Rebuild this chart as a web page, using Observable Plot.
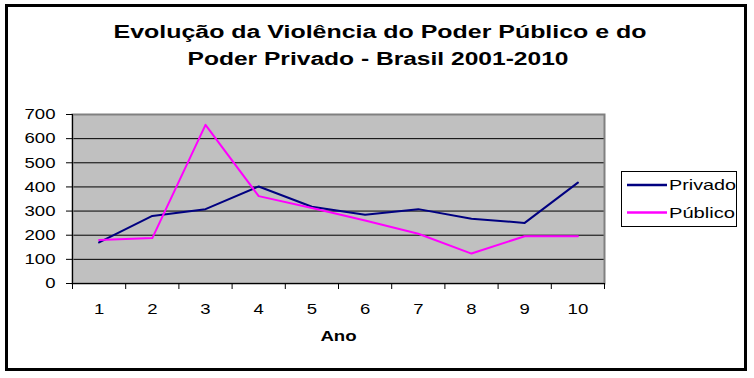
<!DOCTYPE html>
<html>
<head>
<meta charset="utf-8">
<script src="https://cdn.jsdelivr.net/npm/d3@7"></script>
<script src="https://cdn.jsdelivr.net/npm/@observablehq/plot@0.6"></script>
<style>
  html, body { margin: 0; padding: 0; background: #fff; }
  #wrap { position: relative; width: 754px; height: 378px; overflow: hidden; font-family: "Liberation Sans", Arial, sans-serif; }
  #border { position: absolute; left: 5px; top: 4px; width: 742px; height: 367px; box-sizing: border-box; border: 3px solid #000; pointer-events: none; }
  #title { position: absolute; left: 0; top: 0; }
  #chart { position: absolute; left: 0; top: 92px; }
  #legend { position: absolute; left: 621px; top: 171px; }
</style>
</head>
<body>
<div id="wrap">
  <svg id="title" width="754" height="90" font-family="'Liberation Sans', Arial, sans-serif" font-weight="bold" font-size="18" fill="#000">
    <text x="380" y="38" text-anchor="middle" textLength="533" lengthAdjust="spacingAndGlyphs">Evolução da Violência do Poder Público e do</text>
    <text x="378" y="65" text-anchor="middle" textLength="381" lengthAdjust="spacingAndGlyphs">Poder Privado - Brasil 2001-2010</text>
  </svg>
  <div id="chart"></div>
  <svg id="legend" width="116" height="56"></svg>
  <div id="border"></div>
</div>
<script>
const anos = [1, 2, 3, 4, 5, 6, 7, 8, 9, 10];
const privado = [170, 280, 308, 402, 318, 285, 308, 268, 251, 418];
const publico = [180, 188, 657, 362, 313, 261, 206, 124, 196, 196];
const series = ["Privado", "Público"];
const colors = ["#000080", "#FF00FF"];
const yTicks = [0, 100, 200, 300, 400, 500, 600, 700];
const xLabel = "Ano";

const data = [];
anos.forEach((a, i) => {
  data.push({ano: a, valor: privado[i], serie: series[0]});
});
anos.forEach((a, i) => {
  data.push({ano: a, valor: publico[i], serie: series[1]});
});
const bounds = [...anos.map(a => a - 0.5), anos[anos.length - 1] + 0.5];

const chart = Plot.plot({
  width: 754,
  height: 280,
  marginLeft: 72,
  marginRight: 150,
  marginTop: 22,
  marginBottom: 89,
  x: {domain: [bounds[0], bounds[bounds.length - 1]]},
  y: {domain: [0, 700]},
  color: {domain: series, range: colors},
  style: {fontFamily: "'Liberation Sans', Arial, sans-serif", fontSize: "15px", color: "#000", background: "transparent", overflow: "visible"},
  marks: [
    Plot.frame({fill: "#C0C0C0"}),
    Plot.ruleY(yTicks.filter(d => d > 0 && d < 700), {stroke: "#000", strokeWidth: 1}),
    Plot.frame({stroke: "#808080", strokeWidth: 2}),
    Plot.axisY({ticks: yTicks, tickSize: 6, tickPadding: 11, label: null}),
    Plot.axisX({ticks: bounds, tickSize: 6, tickFormat: () => "", label: null}),
    Plot.axisX({ticks: anos, tickSize: 0, tickPadding: 20, label: null}),
    Plot.ruleX([bounds[0]], {stroke: "#000", strokeWidth: 1}),
    Plot.ruleY([0], {stroke: "#000", strokeWidth: 1}),
    Plot.line(data, {x: "ano", y: "valor", stroke: "serie", z: "serie", strokeWidth: 2}),
    Plot.text([xLabel], {frameAnchor: "bottom", dy: 57, fontWeight: "bold", fontSize: 15})
  ]
});
document.getElementById("chart").appendChild(chart);

// horizontally widen the text like the reference rendering
chart.querySelectorAll("text").forEach(t => {
  const w = t.getComputedTextLength();
  if (w > 0) {
    t.setAttribute("textLength", (w * 1.24).toFixed(1));
    t.setAttribute("lengthAdjust", "spacingAndGlyphs");
  }
});

// legend
const lg = d3.select("#legend");
lg.append("rect").attr("x", 0.5).attr("y", 0.5).attr("width", 115).attr("height", 55)
  .attr("fill", "#fff").attr("stroke", "#000").attr("stroke-width", 1);
series.forEach((s, i) => {
  const y = 14 + i * 27.5;
  lg.append("line").attr("x1", 6).attr("x2", 46).attr("y1", y).attr("y2", y)
    .attr("stroke", colors[i]).attr("stroke-width", 2.5);
  lg.append("text").attr("x", 48).attr("y", y + 5.3)
    .attr("font-family", "'Liberation Sans', Arial, sans-serif").attr("font-size", 15)
    .attr("fill", "#000").attr("textLength", i === 0 ? 67 : 66).attr("lengthAdjust", "spacingAndGlyphs")
    .text(s);
});
</script>
</body>
</html>
